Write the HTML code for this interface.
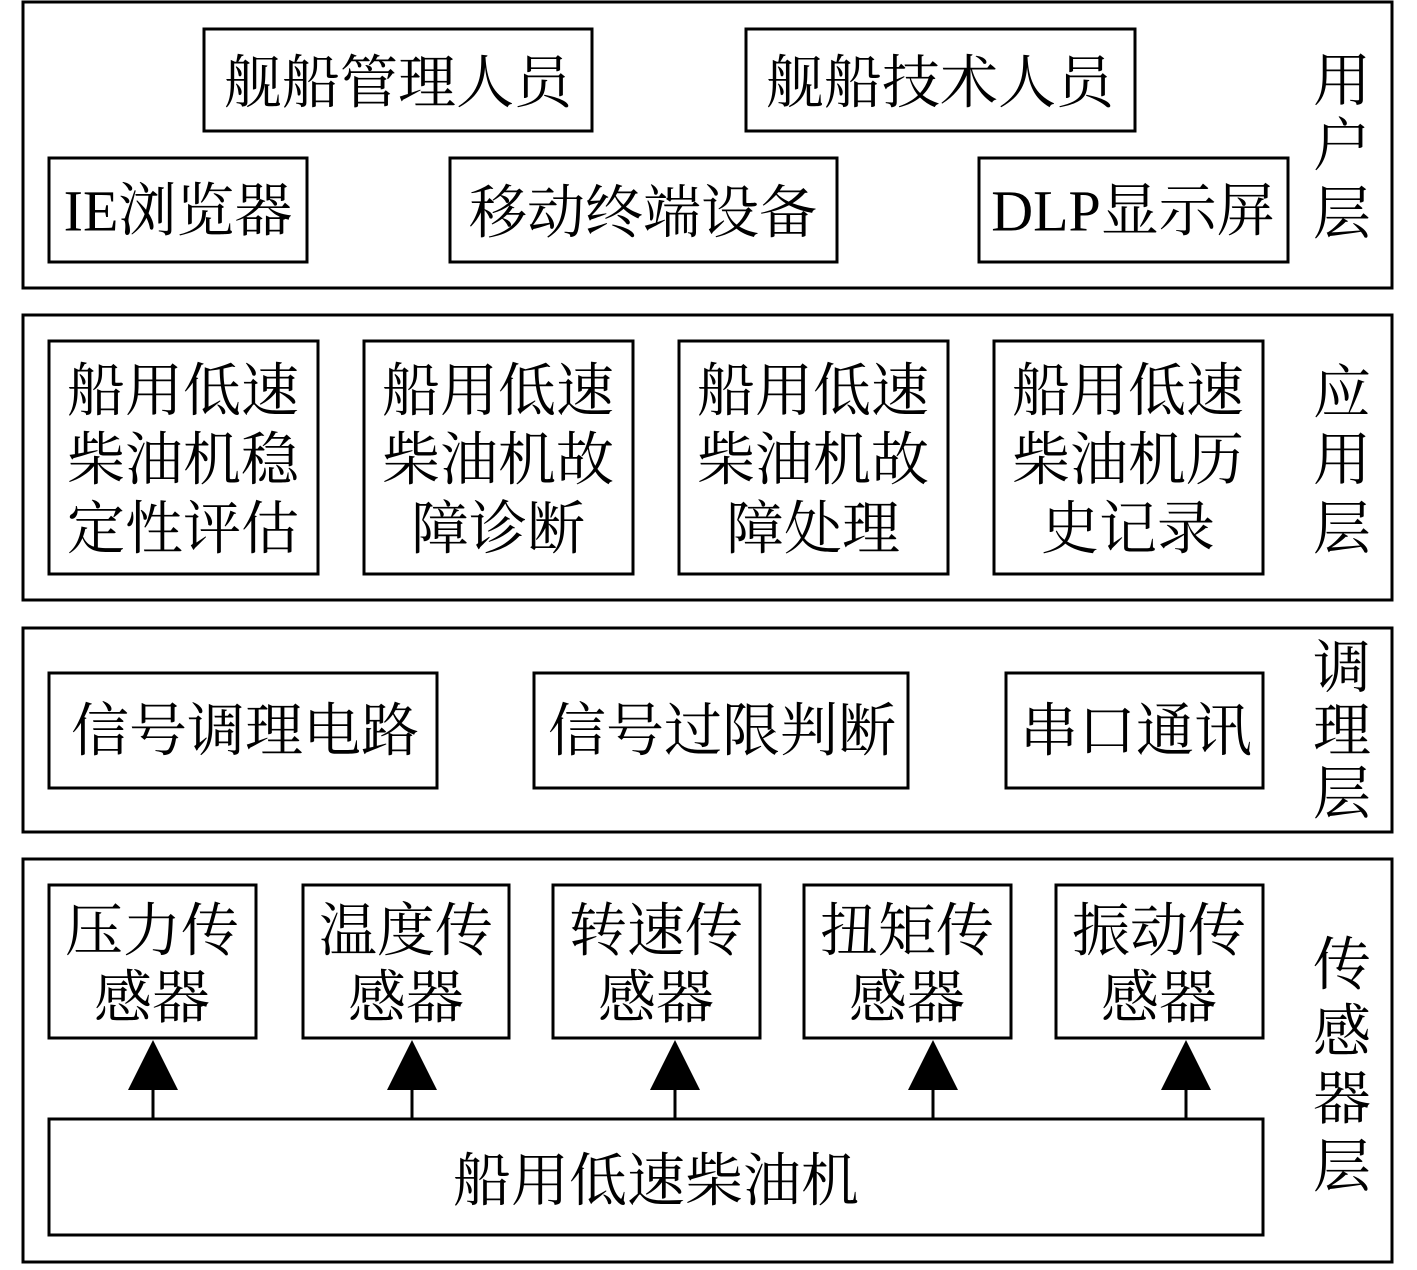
<!DOCTYPE html>
<html><head><meta charset="utf-8"><style>
html,body{margin:0;padding:0;background:#fff}
svg text{font-family:"Liberation Serif","Noto Serif CJK SC",serif;font-size:58px;fill:#000;text-anchor:middle;dominant-baseline:central}
</style></head><body>
<svg width="1417" height="1265" viewBox="0 0 1417 1265" xmlns="http://www.w3.org/2000/svg">
<g fill="none" stroke="#000" stroke-width="3">
<rect x="23" y="2" width="1369" height="286"/>
<rect x="23" y="315" width="1369" height="285"/>
<rect x="23" y="628" width="1369" height="204"/>
<rect x="23" y="859" width="1369" height="403"/>
<rect x="204" y="29" width="388" height="102"/>
<rect x="746" y="29" width="389" height="102"/>
<rect x="49" y="158" width="258" height="104"/>
<rect x="450" y="158" width="387" height="104"/>
<rect x="979" y="158" width="309" height="104"/>
<rect x="49" y="341" width="269" height="233"/>
<rect x="364" y="341" width="269" height="233"/>
<rect x="679" y="341" width="269" height="233"/>
<rect x="994" y="341" width="269" height="233"/>
<rect x="49" y="673" width="388" height="115"/>
<rect x="534" y="673" width="374" height="115"/>
<rect x="1006" y="673" width="257" height="115"/>
<rect x="49" y="885" width="207" height="153"/>
<rect x="303" y="885" width="206" height="153"/>
<rect x="553" y="885" width="207" height="153"/>
<rect x="804" y="885" width="207" height="153"/>
<rect x="1056" y="885" width="207" height="153"/>
<rect x="49" y="1119" width="1214" height="116"/>
<line x1="153" y1="1119" x2="153" y2="1085"/>
<line x1="412" y1="1119" x2="412" y2="1085"/>
<line x1="675" y1="1119" x2="675" y2="1085"/>
<line x1="933" y1="1119" x2="933" y2="1085"/>
<line x1="1186" y1="1119" x2="1186" y2="1085"/>
</g>
<g fill="#000">
<polygon points="153,1040 128,1090 178,1090"/>
<polygon points="412,1040 387,1090 437,1090"/>
<polygon points="675,1040 650,1090 700,1090"/>
<polygon points="933,1040 908,1090 958,1090"/>
<polygon points="1186,1040 1161,1090 1211,1090"/>
</g>
<text x="398" y="83">舰船管理人员</text>
<text x="940" y="83">舰船技术人员</text>
<text x="178" y="211">IE浏览器</text>
<text x="643" y="213">移动终端设备</text>
<text x="1133" y="211">DLP显示屏</text>
<text x="183" y="391">船用低速</text><text x="183" y="460">柴油机稳</text><text x="183" y="529">定性评估</text>
<text x="498" y="391">船用低速</text><text x="498" y="460">柴油机故</text><text x="498" y="529">障诊断</text>
<text x="813" y="391">船用低速</text><text x="813" y="460">柴油机故</text><text x="813" y="529">障处理</text>
<text x="1128" y="391">船用低速</text><text x="1128" y="460">柴油机历</text><text x="1128" y="529">史记录</text>
<text x="245" y="731">信号调理电路</text>
<text x="722" y="731">信号过限判断</text>
<text x="1136" y="731">串口通讯</text>
<text x="152" y="931">压力传</text><text x="152" y="998">感器</text>
<text x="406" y="931">温度传</text><text x="406" y="998">感器</text>
<text x="656" y="931">转速传</text><text x="656" y="998">感器</text>
<text x="907" y="931">扭矩传</text><text x="907" y="998">感器</text>
<text x="1159" y="931">振动传</text><text x="1159" y="998">感器</text>
<text x="656" y="1181">船用低速柴油机</text>
<text x="1342" y="81">用</text><text x="1342" y="146">户</text><text x="1342" y="214">层</text>
<text x="1342" y="393">应</text><text x="1342" y="460">用</text><text x="1342" y="529">层</text>
<text x="1342" y="668">调</text><text x="1342" y="731">理</text><text x="1342" y="794">层</text>
<text x="1342" y="965">传</text><text x="1342" y="1032">感</text><text x="1342" y="1099">器</text><text x="1342" y="1167">层</text>
</svg>
</body></html>
